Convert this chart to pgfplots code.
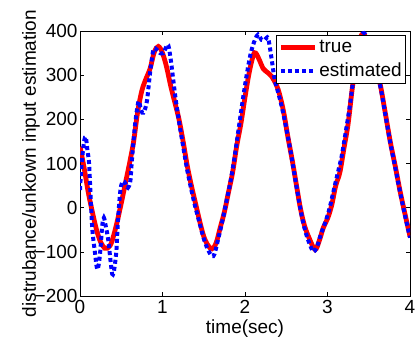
\documentclass[border=0pt]{standalone}
\usepackage{fontspec}
\setmainfont{Liberation Sans}
\usepackage{pgfplots}
\pgfplotsset{compat=1.18}
\definecolor{mred}{rgb}{1,0,0}
\definecolor{mblue}{rgb}{0,0,1}
\begin{document}
\begin{tikzpicture}
\begin{axis}[
  scale only axis,
  width=330bp, height=265bp,
  xmin=0, xmax=4, ymin=-200, ymax=400,
  xtick={0,1,2,3,4},
  ytick={-200,-100,0,100,200,300,400},
  yticklabels={−200,−100,0,100,200,300,400},
  /pgf/number format/assume math mode=true,
  font=\fontsize{19bp}{22bp}\selectfont,
  tick align=inside,
  major tick length=4bp,
  axis line style={line width=0.8bp},
  every tick/.style={black, line width=0.6bp},
  yticklabel style={xshift=1bp},
  xticklabel style={yshift=-1bp},
  xlabel={time(sec)},
  ylabel={distrubance/unkown input estimation},
  xlabel style={yshift=1bp},
  ylabel style={yshift=-12bp},
  legend cell align=left,
  legend style={at={(0.988,0.985)}, anchor=north east, draw=black, line width=0.6bp,
    inner xsep=2bp, inner ysep=3bp, row sep=5bp,
    font=\fontsize{19bp}{22bp}\selectfont},
  legend image code/.code={\draw[#1] (0bp,0bp) -- (34bp,0bp);},
]
\addplot[mred, line width=4.8bp, smooth, tension=0.55] coordinates {
(0.00,138) (0.05,90) (0.10,35) (0.15,-10) (0.20,-50) (0.25,-78) (0.30,-92) (0.33,-92)
(0.38,-80) (0.44,-40) (0.50,10) (0.55,55) (0.60,100) (0.65,150) (0.70,218) (0.75,265)
(0.80,292) (0.85,315) (0.90,352) (0.95,365) (1.00,350) (1.05,318) (1.10,275) (1.15,238)
(1.20,200) (1.25,150) (1.30,95) (1.35,50) (1.40,10) (1.45,-30) (1.50,-65) (1.55,-85)
(1.60,-93) (1.65,-80) (1.70,-45) (1.75,-10) (1.80,35) (1.85,80) (1.90,140) (1.95,190)
(2.00,250) (2.05,305) (2.10,345) (2.13,350) (2.18,332) (2.22,315) (2.28,305) (2.32,298)
(2.38,278) (2.42,256) (2.47,215) (2.52,160) (2.57,110) (2.62,55) (2.67,0) (2.72,-40)
(2.78,-70) (2.85,-95) (2.90,-75) (2.95,-45) (3.00,-25) (3.05,5) (3.10,50) (3.15,80)
(3.20,135) (3.25,190) (3.30,270) (3.35,335) (3.40,385) (3.43,392) (3.47,385) (3.52,360)
(3.58,320) (3.64,278) (3.70,215) (3.76,150) (3.82,95) (3.88,37) (3.94,-15) (4.00,-65)
};
\addlegendentry{true}
\addplot[mblue, line width=4bp, line cap=butt, dash pattern=on 4bp off 3bp, smooth, tension=0.5] coordinates {
(0.00,40) (0.02,100) (0.05,150) (0.07,160) (0.09,130) (0.11,100) (0.13,20) (0.15,-50)
(0.18,-100) (0.21,-140) (0.24,-110) (0.27,-40) (0.29,-23) (0.31,-40) (0.34,-70) (0.37,-120)
(0.39,-150) (0.41,-145) (0.44,-100) (0.46,-30) (0.49,40) (0.52,60) (0.55,55) (0.58,45)
(0.61,60) (0.63,110) (0.67,192) (0.71,241) (0.74,220) (0.77,215) (0.81,240) (0.85,306)
(0.89,358) (0.93,358) (0.97,350) (1.01,350) (1.04,362) (1.07,368) (1.10,335) (1.13,290)
(1.16,245) (1.20,195) (1.25,139) (1.30,85) (1.35,40) (1.40,0) (1.45,-35) (1.50,-70)
(1.55,-95) (1.60,-110) (1.63,-105) (1.67,-75) (1.72,-35) (1.77,10) (1.82,55) (1.87,110)
(1.92,175) (1.97,240) (2.02,300) (2.07,350) (2.12,380) (2.16,392) (2.20,380) (2.24,380)
(2.28,384) (2.32,340) (2.36,290) (2.40,262) (2.45,225) (2.50,180) (2.55,130) (2.60,75)
(2.65,20) (2.70,-30) (2.75,-65) (2.80,-90) (2.83,-100) (2.87,-90) (2.92,-60) (2.97,-35)
(3.02,-5) (3.07,35) (3.12,75) (3.17,115) (3.22,170) (3.27,230) (3.32,300) (3.37,365)
(3.43,395) (3.48,385) (3.53,355) (3.58,318) (3.64,275) (3.70,212) (3.76,148) (3.82,92)
(3.88,35) (3.94,-18) (4.00,-68)
};
\addlegendentry{estimated}
\end{axis}
\pgfresetboundingbox
\path[use as bounding box] ([shift={(-80bp,-45bp)}]current axis.south west) rectangle ([shift={(6bp,31bp)}]current axis.north east);
\end{tikzpicture}
\end{document}
